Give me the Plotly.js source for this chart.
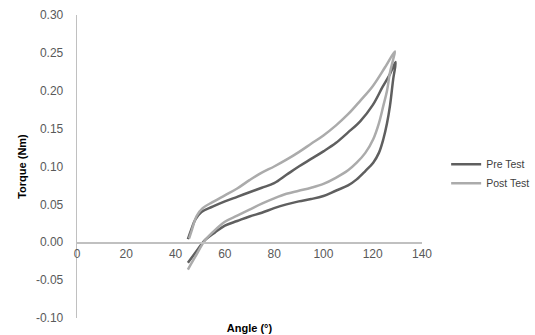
<!DOCTYPE html>
<html>
<head>
<meta charset="utf-8">
<script src="https://cdn.plot.ly/plotly-3.0.1.min.js"></script>
<style>html,body{margin:0;padding:0;background:#fff;}#chart{width:535px;height:335px;}</style>
</head>
<body>
<div id="chart"></div>
<script>
// Pre Test: loading (upper) branch then unloading (lower) branch
var preAngle = [45, 46.5, 48, 50.5, 55, 60, 65, 70, 75, 80, 85, 90, 95, 100, 105, 110, 115, 120, 124, 127, 129.3,
                128.3, 127, 125.8, 124.3, 122.5, 120.2, 117, 113.5, 110, 105, 100, 95, 90, 85, 80, 75, 70, 65, 60, 56, 52, 48, 45];
var preTorque = [0.004, 0.018, 0.030, 0.040, 0.047, 0.054, 0.060, 0.066, 0.072, 0.078, 0.089, 0.100, 0.110, 0.120, 0.131, 0.145, 0.160, 0.181, 0.205, 0.222, 0.238,
                 0.215, 0.180, 0.157, 0.136, 0.118, 0.105, 0.094, 0.083, 0.075, 0.068, 0.061, 0.057, 0.054, 0.050, 0.045, 0.039, 0.034, 0.028, 0.022, 0.013, 0.003, -0.014, -0.027];
// Post Test
var postAngle = [45.5, 46.5, 48.6, 51, 55, 60, 65, 70, 75, 80, 85, 90, 95, 100, 105, 110, 115, 120, 125, 129,
                 128.2, 127, 125.8, 124.3, 122.5, 120.2, 117, 113.5, 110, 105, 100, 95, 90, 85, 80, 75, 70, 65, 60, 55, 52, 48, 45];
var postTorque = [0.005, 0.015, 0.035, 0.045, 0.053, 0.062, 0.071, 0.082, 0.092, 0.100, 0.109, 0.119, 0.130, 0.141, 0.154, 0.169, 0.187, 0.206, 0.231, 0.252,
                  0.240, 0.224, 0.200, 0.180, 0.157, 0.136, 0.118, 0.105, 0.095, 0.085, 0.077, 0.072, 0.068, 0.064, 0.058, 0.051, 0.043, 0.035, 0.027, 0.013, 0.003, -0.019, -0.036];

var xTickVals = [0, 20, 40, 60, 80, 100, 120, 140];
var yTickVals = [-0.10, -0.05, 0.00, 0.05, 0.10, 0.15, 0.20, 0.25, 0.30];
var yTickText = ["-0.10", "-0.05", "0.00", "0.05", "0.10", "0.15", "0.20", "0.25", "0.30"];

var traces = [
  {x: preAngle, y: preTorque, name: "Pre Test", type: "scatter", mode: "lines",
   line: {color: "#5f5f5f", width: 2.5, shape: "spline", smoothing: 1}},
  {x: postAngle, y: postTorque, name: "Post Test", type: "scatter", mode: "lines",
   line: {color: "#ababab", width: 2.5, shape: "spline", smoothing: 1}}
];

var font = "Liberation Sans, Arial, sans-serif";
var layout = {
  width: 535, height: 335,
  margin: {l: 77, r: 113, t: 15, b: 17, pad: 0, autoexpand: false},
  paper_bgcolor: "#fff", plot_bgcolor: "#fff",
  showlegend: true,
  legend: {x: 1.07, y: 0.555, xanchor: "left", yanchor: "top",
           font: {family: font, size: 10.5, color: "#404040"},
           itemwidth: 30, tracegroupgap: 0, bgcolor: "rgba(0,0,0,0)"},
  xaxis: {
    range: [0, 140], tickvals: xTickVals, ticktext: xTickVals.map(String),
    anchor: "free", position: 0.25,
    showgrid: false, zeroline: false, showline: true, linecolor: "#c0c0c0", linewidth: 1.3,
    ticks: "", tickfont: {family: font, size: 12, color: "#595959"},
    title: {text: "<b>Angle (°)</b>", font: {family: font, size: 11, color: "#000"}, standoff: 64}
  },
  yaxis: {
    range: [-0.10, 0.30], tickvals: yTickVals, ticktext: yTickText,
    showgrid: false, zeroline: true, zerolinecolor: "#c8c8c8", zerolinewidth: 1.3,
    showline: true, linecolor: "#c0c0c0", linewidth: 1.3,
    ticks: "", ticklabelstandoff: 10, tickfont: {family: font, size: 12, color: "#595959"},
    title: {text: "<b>Torque (Nm)</b>", font: {family: font, size: 11, color: "#000"}, standoff: 7}
  }
};
Plotly.newPlot("chart", traces, layout, {displayModeBar: false, staticPlot: true});
</script>
</body>
</html>
